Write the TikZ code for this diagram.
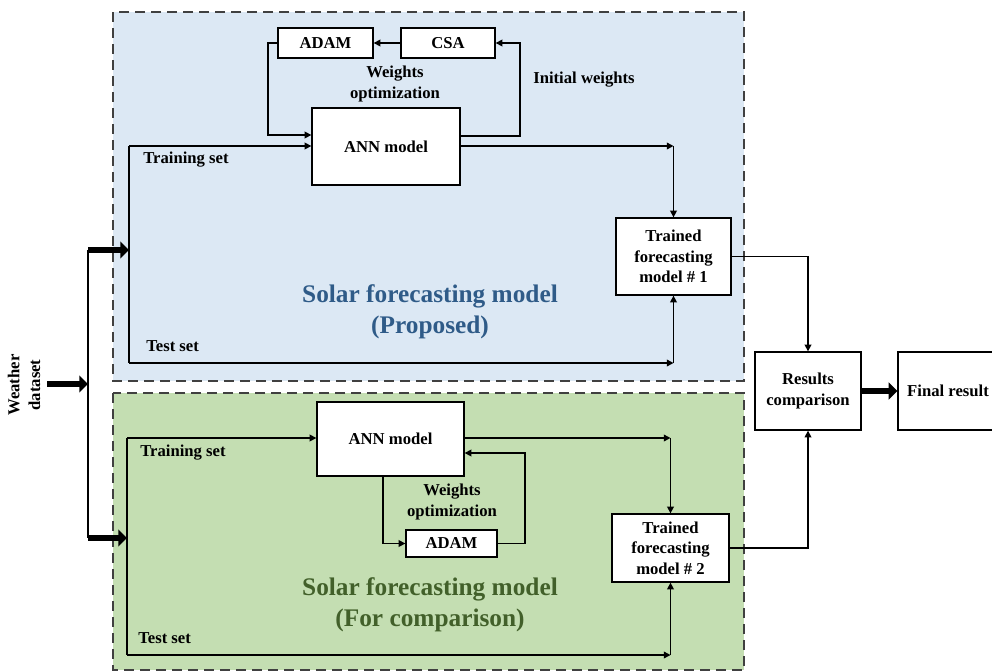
\documentclass[tikz,border=0pt]{standalone}
\usepackage{fontspec}
\setmainfont{Liberation Serif}
\usetikzlibrary{arrows.meta,calc}
\definecolor{panelblue}{HTML}{DCE8F4}
\definecolor{panelgreen}{HTML}{C4DEB2}
\definecolor{titleblue}{HTML}{2F5B88}
\definecolor{titlegreen}{HTML}{42602A}
\tikzset{
  box/.style={draw=black, fill=white, line width=1pt, inner sep=0pt, align=center,
    font=\fontsize{12.5}{15.5}\selectfont\bfseries},
  lbl/.style={inner sep=0pt, align=center, font=\fontsize{12.5}{15.5}\selectfont\bfseries},
  ttl/.style={inner sep=0pt, align=center, font=\fontsize{19}{23.5}\selectfont\bfseries},
  panel/.style={draw=black!75, line width=1.1pt, dash pattern=on 7.5pt off 4.5pt},
  conn/.style={draw=black, line width=1.1pt},
  arr/.style={conn, -{Triangle[length=5pt,width=5pt]}},
  fat/.style={draw=black, line width=5pt, -{Triangle[length=6.5pt,width=12.5pt]}},
}
\begin{document}
\begin{tikzpicture}[x=0.75pt,y=-0.75pt]
\useasboundingbox (0,0) rectangle (992,671);
\clip (0,0) rectangle (992,671);
% panels
\path[panel, fill=panelblue] (113,12) rectangle (744,381);
\path[panel, fill=panelgreen] (113,393) rectangle (744,670);

% ---------- top panel nodes
\node[box, minimum width=71.25pt, minimum height=22.5pt] (adam1) at (325.5,43) {ADAM};
\node[box, minimum width=70.5pt, minimum height=22.5pt] (csa) at (448,43) {CSA};
\node[box, minimum width=111pt, minimum height=57.75pt] (ann1) at (386,146.5) {ANN model};
\node[box, minimum width=86.25pt, minimum height=57.75pt] (t1) at (673.5,256.5) {Trained\\forecasting\\model \# 1};
\node[lbl] (wo1) at (395,84) {Weights\\optimization};
\node[lbl] (iw) at (584,80) {Initial weights};
\node[lbl, anchor=west] (tr1) at (143,160) {Training set};
\node[lbl, anchor=west] (te1) at (146,346) {Test set};
\node[ttl, text=titleblue] (title1) at (430,312) {Solar forecasting model\\(Proposed)};

% ---------- bottom panel nodes
\node[box, minimum width=110.25pt, minimum height=55.5pt] (ann2) at (390.5,439) {ANN model};
\node[box, minimum width=68.25pt, minimum height=20.25pt] (adam2) at (451.5,543.5) {ADAM};
\node[box, minimum width=87.75pt, minimum height=51pt] (t2) at (670.5,548) {Trained\\forecasting\\model \# 2};
\node[lbl] (wo2) at (452,502) {Weights\\optimization};
\node[lbl, anchor=west] (tr2) at (140,453) {Training set};
\node[lbl, anchor=west] (te2) at (138,638) {Test set};
\node[ttl, text=titlegreen] (title2) at (430,605) {Solar forecasting model\\(For comparison)};

% ---------- right side
\node[box, minimum width=79.5pt, minimum height=58.5pt] (rc) at (808,391) {Results\\comparison};
\node[box, minimum width=75pt, minimum height=58.5pt] (fr) at (948,391) {Final result};

% ---------- weather dataset
\node[lbl, rotate=90] (wd) at (24,385) {Weather\\dataset};

% coordinates
\coordinate (ws) at (47,384);
\coordinate (sp) at (88,384);
\coordinate (st) at (88,250);
\coordinate (sb) at (88,538);
\coordinate (lt) at (129,250);
\coordinate (lb) at (127,538);
\coordinate (ltt) at (129,146);
\coordinate (ltb) at (129,363);
\coordinate (lbt) at (127,438);
\coordinate (lbb) at (127,655);

% ---------- weather connectors
\draw[fat] (ws) -- (sp);
\draw[conn] (st) -- (sb);
\draw[fat] (st) -- (lt);
\draw[fat] (sb) -- (lb);

% ---------- top connectors
\draw[conn] (ltt) -- (ltb);
\draw[arr] (ltt) -- (ltt -| ann1.west);
\draw[arr] (csa.west) -- (adam1.east);
\draw[arr] (adam1.west) -- (268,43) -- (268,135) -- (ann1.west |- 0,135);
\draw[arr] (ann1.east |- 0,136) -- (520,136) -- (520,43) -- (csa.east);
\draw[arr] (ann1.east |- ltt) -- (t1.north |- ltt);
\draw[arr] (t1.north |- ltt) -- (t1.north);
\draw[arr] (ltb) -- (t1.south |- ltb);
\draw[arr] (t1.south |- ltb) -- (t1.south);
\draw[arr] (t1.east) -| (rc.north);

% ---------- bottom connectors
\draw[conn] (lbt) -- (lbb);
\draw[arr] (lbt) -- (ann2.west |- lbt);
\draw[arr] (ann2.east |- lbt) -- (t2.north |- lbt);
\draw[arr] (t2.north |- lbt) -- (t2.north);
\draw[arr] (383,476) -- (383,543.5) -- (adam2.west);
\draw[arr] (adam2.east) -- (525,543.5) -- (525,453) -- (ann2.east |- 0,453);
\draw[arr] (lbb) -- (t2.south |- lbb);
\draw[arr] (t2.south |- lbb) -- (t2.south);
\draw[arr] (t2.east) -| (rc.south);

% ---------- result
\draw[fat] (rc.east) -- (fr.west);
\end{tikzpicture}
\end{document}
